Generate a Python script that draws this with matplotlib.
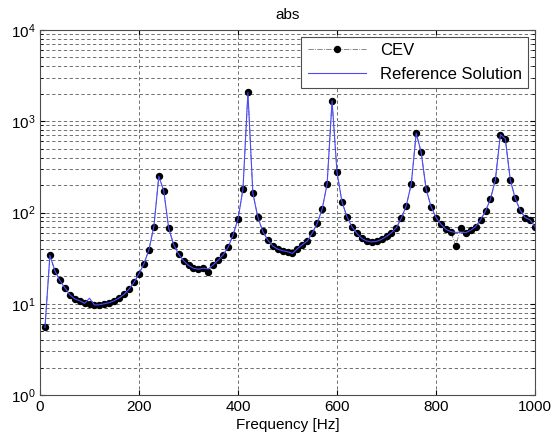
import numpy as np
import matplotlib
matplotlib.use('Agg')
import matplotlib.pyplot as plt
from matplotlib.ticker import LogLocator, NullLocator, NullFormatter

plt.rcParams['font.family'] = ['Liberation Sans', 'DejaVu Sans']
plt.rcParams['mathtext.default'] = 'regular'

# frequencies (Hz), one sample every 10 Hz
freq = np.arange(10, 1001, 10)

# CEV result (abs)
cev = [5.5, 34, 23, 18, 15, 12.6, 11.3, 10.8, 10.1, 9.9,
       9.7, 9.75, 10.0, 10.3, 10.8, 11.6, 12.7, 14.5, 17.2, 21.4,
       27.4, 39, 70, 249, 173, 67, 44.5, 35, 29.6, 26.3,
       24.5, 23.9, 24.5, 22.2, 26.7, 30.1, 34.4, 41.5, 56.8, 85,
       180, 2070, 163, 89, 62, 50, 43, 39.7, 38.1, 37.2,
       35.6, 40.1, 44.4, 48.7, 59.7, 76, 109, 205, 1675, 276,
       131, 90, 70, 59, 52, 48.7, 47.5, 48.3, 50.8, 54.8,
       60.1, 68.4, 86.5, 119, 205, 738, 459, 181, 116, 88,
       74.3, 65.4, 61.7, 42.9, 68.4, 60.1, 63.8, 70.1, 83, 103.6,
       140, 229, 713, 644, 229, 143, 106, 88, 83, 70]

# reference solution
ref = [5.5, 34, 23, 18, 15, 12.6, 11.3, 10.8, 10.1, 11.5,
       9.7, 9.75, 10.0, 10.3, 10.8, 11.6, 12.7, 14.5, 17.2, 21.4,
       27.4, 39, 70, 249, 173, 67, 44.5, 35, 29.6, 26.3,
       24.5, 23.9, 24.5, 24.1, 26.7, 30.1, 34.4, 41.5, 56.8, 85,
       180, 2070, 163, 89, 62, 50, 43, 39.7, 38.1, 37.2,
       35.6, 40.1, 44.4, 48.7, 59.7, 76, 109, 205, 1675, 276,
       131, 90, 70, 59, 52, 48.7, 47.5, 48.3, 50.8, 54.8,
       60.1, 68.4, 86.5, 119, 205, 738, 459, 181, 116, 88,
       74.3, 65.4, 61.7, 60.5, 61, 60.1, 63.8, 70.1, 83, 103.6,
       140, 229, 713, 644, 229, 143, 106, 88, 83, 70]

fig = plt.figure(figsize=(5.52, 4.32), dpi=100)
ax = fig.add_axes([0.0725, 0.0856, 0.8967, 0.845])

ax.semilogy(freq, cev, color='0.45', ls='-.', lw=0.6, marker='o', ms=4.3,
            mfc='k', mec='k', label='CEV')
ax.semilogy(freq, ref, color='#4a4aff', lw=0.8, label='Reference Solution')

ax.set_xlim(0, 1000)
ax.set_ylim(1, 1e4)
ax.set_xticks([0, 200, 400, 600, 800, 1000])
ax.xaxis.set_minor_locator(NullLocator())
ax.yaxis.set_major_locator(LogLocator(base=10))
ax.yaxis.set_minor_locator(LogLocator(base=10, subs=np.arange(2, 10)))
ax.yaxis.set_minor_formatter(NullFormatter())

grid_kw = dict(ls=(0, (4, 3)), color='0.35', lw=0.6)
ax.grid(True, which='major', axis='both', **grid_kw)
ax.grid(True, which='minor', axis='y', **grid_kw)

ax.tick_params(which='both', direction='in', top=True, right=True, labelsize=11)
for s in ax.spines.values():
    s.set_color('0.3')

ax.set_title('abs', fontsize=11, pad=8)
ax.set_xlabel('Frequency [Hz]', fontsize=11, labelpad=3)

leg = ax.legend(loc='upper right', fontsize=12, fancybox=False, edgecolor='0.3',
                framealpha=1, handlelength=3.5, borderaxespad=0.4)
leg.get_frame().set_linewidth(0.8)

fig.savefig('out.png', dpi=100)
